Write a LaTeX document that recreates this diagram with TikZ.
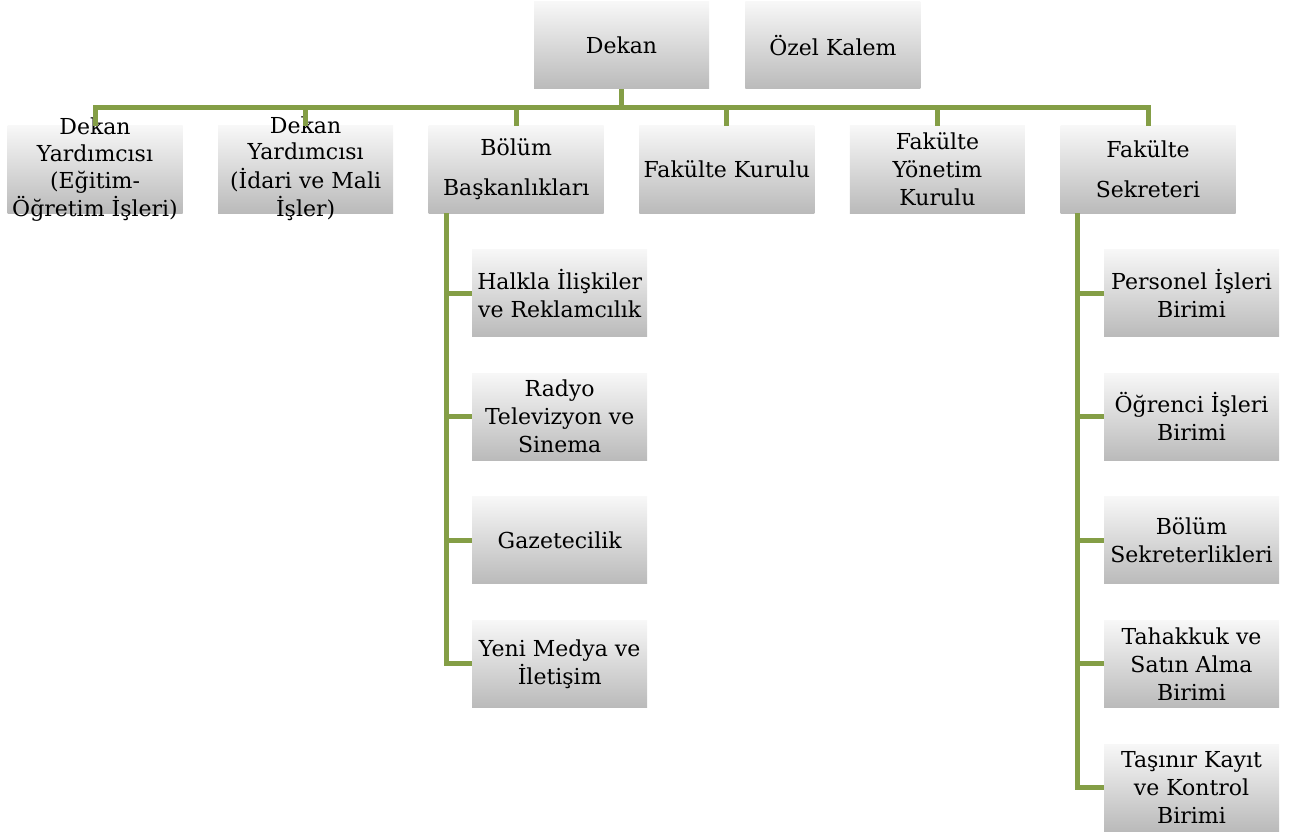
\documentclass[tikz,border=0pt]{standalone}
\usepackage{fontspec}
\setmainfont{DejaVu Serif}
\usetikzlibrary{positioning,trees}
\definecolor{orgline}{RGB}{132,158,70}
% text that spills over its box, as in the Dekan Yardimcisi boxes
\newcommand{\spillover}[1]{\raisebox{-47pt}[0pt][0pt]{%
  \fontsize{22}{26.7}\selectfont
  \begin{tabular}[b]{@{}c@{}}#1\end{tabular}}}
\begin{document}
\begin{tikzpicture}[x=1pt, y=1pt,
  every node/.style = {shape=rectangle, align=center, inner sep=0pt,
    minimum width=175pt, minimum height=87pt,
    top color=black!3, bottom color=black!27,
    font=\fontsize{22}{28}\selectfont},
  level 1/.style = {sibling distance=210.6pt, level distance=124pt},
  level 2/.style = {grow via three points={one child at (43.5,-123.6)
      and two children at (43.5,-123.6) and (43.5,-247.2)},
    edge from parent path={(\tikzparentnode.south west) ++(17.5,0)
      |- (\tikzchildnode.west)}},
  edge from parent/.style = {draw=orgline, line width=5pt},
  edge from parent path = {(\tikzparentnode.south) -- ++(0,-18.5)
    -| (\tikzchildnode.north)}]
  \useasboundingbox (0,0) rectangle (1300,-837);
  \node (dekan) at (621.5,-45.5) {Dekan}
    child { node (yrd1) {\spillover{Dekan\\Yardımcısı\\(Eğitim-\\Öğretim İşleri)}} }
    child { node (yrd2) {\spillover{Dekan\\Yardımcısı\\(İdari ve Mali\\İşler)}} }
    child { node (bolum) {Bölüm\\[12pt]Başkanlıkları}
      child { node (halkla) {Halkla İlişkiler\\ve Reklamcılık} }
      child { node (radyo) {Radyo\\Televizyon ve\\Sinema} }
      child { node (gazete) {Gazetecilik} }
      child { node (medya) {Yeni Medya ve\\İletişim} }
    }
    child { node (kurul) {Fakülte Kurulu} }
    child { node (yonetim) {Fakülte\\Yönetim\\Kurulu} }
    child { node (sekreter) {Fakülte\\[12pt]Sekreteri}
      child { node (personel) {Personel İşleri\\Birimi} }
      child { node (ogrenci) {Öğrenci İşleri\\Birimi} }
      child { node (bsekreter) {Bölüm\\Sekreterlikleri} }
      child { node (tahakkuk) {Tahakkuk ve\\Satın Alma\\Birimi} }
      child { node (tasinir) {Taşınır Kayıt\\ve Kontrol\\Birimi} }
    };
  \node (ozel) [right=36pt of dekan] {Özel Kalem};
\end{tikzpicture}
\end{document}
